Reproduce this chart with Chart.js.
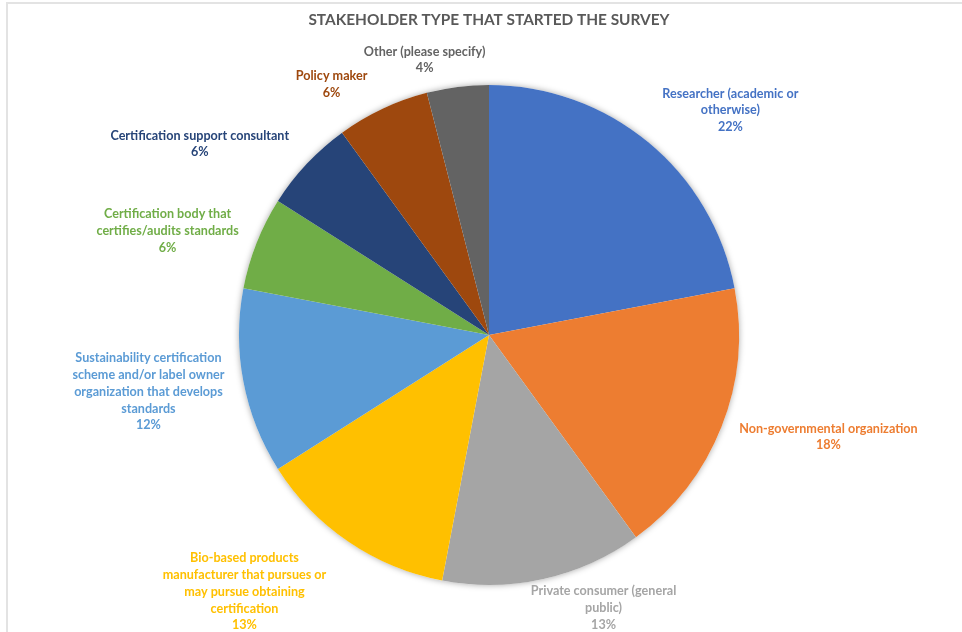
<!DOCTYPE html>
<html>
<head>
<meta charset="utf-8">
<title>Stakeholder type that started the survey</title>
<script src="https://cdn.jsdelivr.net/npm/chart.js@4/dist/chart.umd.min.js"></script>
<style>
  html, body { margin: 0; padding: 0; background: #fff; }
  #wrap { position: relative; width: 962px; height: 632px; overflow: hidden; }
  #frame {
    position: absolute; left: 6px; top: 2px; right: -10px; bottom: -10px;
    border-left: 2px solid #e3e3e3; border-top: 2px solid #e3e3e3;
    pointer-events: none;
  }
</style>
</head>
<body>
<div id="wrap">
  <canvas id="stakeholder-chart" width="962" height="632"></canvas>
  <div id="frame"></div>
</div>
<script>
// Stakeholder groups, clockwise from the top
var categories = [
  'Researcher (academic or otherwise)',
  'Non-governmental organization',
  'Private consumer (general public)',
  'Bio-based products manufacturer that pursues or may pursue obtaining certification',
  'Sustainability certification scheme and/or label owner organization that develops standards',
  'Certification body that certifies/audits standards',
  'Certification support consultant',
  'Policy maker',
  'Other (please specify)'
];

// Share of respondents, in percent
var shares = [22, 18, 13, 13, 12, 6, 6, 6, 4];

var sliceColors = ['#4472C4', '#ED7D31', '#A5A5A5', '#FFC000', '#5B9BD5',
                   '#70AD47', '#264478', '#9E480E', '#636363'];

// How each category name wraps in its label
var labelLines = [
  ['Researcher (academic or', 'otherwise)'],
  ['Non-governmental organization'],
  ['Private consumer (general', 'public)'],
  ['Bio-based products', 'manufacturer that pursues or', 'may pursue obtaining', 'certification'],
  ['Sustainability certification', 'scheme and/or label owner', 'organization that develops', 'standards'],
  ['Certification body that', 'certifies/audits standards'],
  ['Certification support consultant'],
  ['Policy maker'],
  ['Other (please specify)']
];

// label block offset from the outer edge of its slice (mid angle)
var labelNudge = [[82, -32], [107, 10], [60, 29], [-104, 50], [-95, 10],
                  [-89, -12], [-107, -20], [-51, -24], [-33, -27]];

var FONT = 'Lato, "Open Sans", sans-serif';

// soft shadow under the whole pie
var pieShadow = {
  id: 'pieShadow',
  beforeDatasetsDraw: function(chart) {
    var arc = chart.getDatasetMeta(0).data[0];
    if (!arc) return;
    var p = arc.getProps(['x', 'y', 'outerRadius'], true);
    var ctx = chart.ctx;
    ctx.save();
    ctx.shadowColor = 'rgba(0,0,0,0.35)';
    ctx.shadowBlur = 6;
    ctx.fillStyle = '#ffffff';
    ctx.beginPath();
    ctx.arc(p.x, p.y, p.outerRadius, 0, Math.PI * 2);
    ctx.fill();
    ctx.restore();
  }
};

// category name + percentage outside each slice
var outsideLabels = {
  id: 'outsideLabels',
  afterDatasetsDraw: function(chart) {
    var ctx = chart.ctx;
    var meta = chart.getDatasetMeta(0);
    var lh = 16.7;
    ctx.save();
    ctx.font = 'bold 12.6px ' + FONT;
    ctx.textAlign = 'center';
    ctx.textBaseline = 'middle';
    meta.data.forEach(function(arc, i) {
      var p = arc.getProps(['x', 'y', 'startAngle', 'endAngle', 'outerRadius'], true);
      var mid = (p.startAngle + p.endAngle) / 2;
      var cx = p.x + Math.cos(mid) * p.outerRadius + labelNudge[i][0];
      var cy = p.y + Math.sin(mid) * p.outerRadius + labelNudge[i][1];
      var lines = labelLines[i].concat([shares[i] + '%']);
      var top = cy - (lines.length - 1) * lh / 2;
      ctx.fillStyle = sliceColors[i];
      lines.forEach(function(t, k) {
        ctx.fillText(t, cx, top + k * lh);
      });
    });
    ctx.restore();
  }
};

var ctx = document.getElementById('stakeholder-chart').getContext('2d');
var chart = new Chart(ctx, {
  type: 'pie',
  data: {
    labels: categories,
    datasets: [{
      data: shares,
      backgroundColor: sliceColors,
      borderWidth: 0
    }]
  },
  options: {
    responsive: false,
    animation: false,
    layout: {
      padding: { top: 0, bottom: 47, left: 16, right: 0 }
    },
    plugins: {
      legend: { display: false },
      tooltip: { enabled: false },
      title: {
        display: true,
        text: 'STAKEHOLDER TYPE THAT STARTED THE SURVEY',
        color: '#595959',
        font: { family: FONT, size: 15.4, weight: 'bold' },
        padding: { top: 11, bottom: 55.5 }
      }
    }
  },
  plugins: [pieShadow, outsideLabels]
});
</script>
</body>
</html>
